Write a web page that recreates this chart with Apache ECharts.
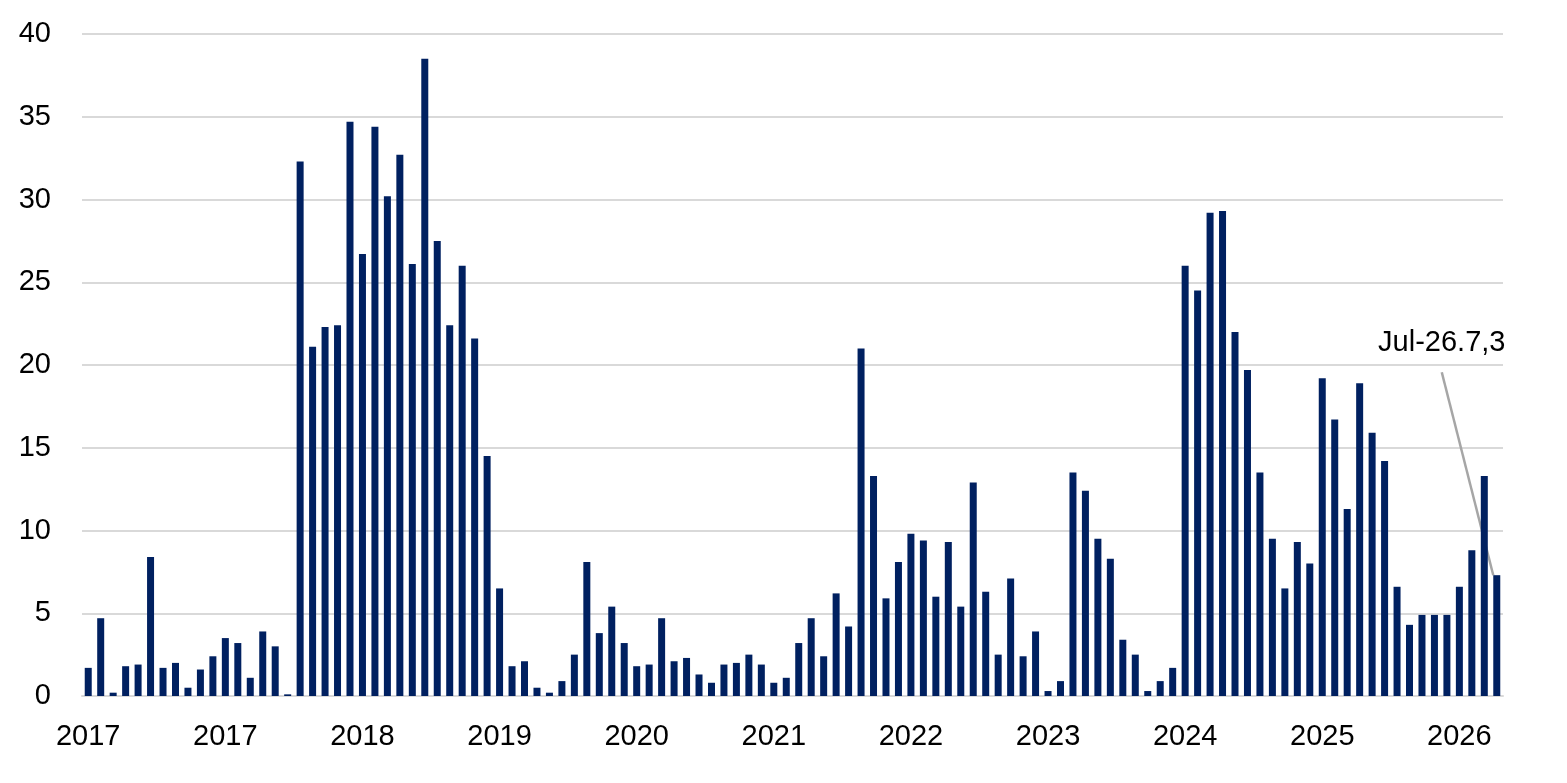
<!DOCTYPE html>
<html>
<head>
<meta charset="utf-8">
<script src="https://cdn.jsdelivr.net/npm/echarts@6/dist/echarts.min.js"></script>
<style>
html,body{margin:0;padding:0;background:#fff;}
#chart{width:1567px;height:783px;}
</style>
</head>
<body>
<div id="chart"></div>
<script>
var categories = [
"Jan-17","Feb-17","Mar-17","Apr-17","May-17","Jun-17","Jul-17","Aug-17","Sep-17","Oct-17","Nov-17","Dec-17",
"Jan-18","Feb-18","Mar-18","Apr-18","May-18","Jun-18","Jul-18","Aug-18","Sep-18","Oct-18","Nov-18","Dec-18",
"Jan-19","Feb-19","Mar-19","Apr-19","May-19","Jun-19","Jul-19","Aug-19","Sep-19","Oct-19","Nov-19","Dec-19",
"Jan-20","Feb-20","Mar-20","Apr-20","May-20","Jun-20","Jul-20","Aug-20","Sep-20","Oct-20","Nov-20","Dec-20",
"Jan-21","Feb-21","Mar-21","Apr-21","May-21","Jun-21","Jul-21","Aug-21","Sep-21","Oct-21","Nov-21","Dec-21",
"Jan-22","Feb-22","Mar-22","Apr-22","May-22","Jun-22","Jul-22","Aug-22","Sep-22","Oct-22","Nov-22","Dec-22",
"Jan-23","Feb-23","Mar-23","Apr-23","May-23","Jun-23","Jul-23","Aug-23","Sep-23","Oct-23","Nov-23","Dec-23",
"Jan-24","Feb-24","Mar-24","Apr-24","May-24","Jun-24","Jul-24","Aug-24","Sep-24","Oct-24","Nov-24","Dec-24",
"Jan-25","Feb-25","Mar-25","Apr-25","May-25","Jun-25","Jul-25","Aug-25","Sep-25","Oct-25","Nov-25","Dec-25",
"Jan-26","Feb-26","Mar-26","Apr-26","May-26","Jun-26"
];

var values = [
1.7,4.7,0.2,1.8,1.9,8.4,1.7,2.0,0.5,1.6,2.4,3.5,
3.2,1.1,3.9,3.0,0.1,32.3,21.1,22.3,22.4,34.7,26.7,34.4,
30.2,32.7,26.1,38.5,27.5,22.4,26.0,21.6,14.5,6.5,1.8,2.1,
0.5,0.2,0.9,2.5,8.1,3.8,5.4,3.2,1.8,1.9,4.7,2.1,
2.3,1.3,0.8,1.9,2.0,2.5,1.9,0.8,1.1,3.2,4.7,2.4,
6.2,4.2,21.0,13.3,5.9,8.1,9.8,9.4,6.0,9.3,5.4,12.9,
6.3,2.5,7.1,2.4,3.9,0.3,0.9,13.5,12.4,9.5,8.3,3.4,
2.5,0.3,0.9,1.7,26.0,24.5,29.2,29.3,22.0,19.7,13.5,9.5,
6.5,9.3,8.0,19.2,16.7,11.3,18.9,15.9,14.2,6.6,4.3,4.9,
4.9,4.9,6.6,8.8,13.3,7.3
];

var tickLabels = ["2017","2017","2018","2019","2020","2021","2022","2023","2024","2025","2026"];
var labelEvery = 11;
var annotationText = "Jul-26.7,3";
var lastIndex = values.length - 1;

var guideLine = { show: true, lineStyle: { color: '#a6a6a6', width: 2.5 } };

var seriesData = values.map(function (v, i) {
  if (i === lastIndex) {
    return {
      value: v,
      label: {
        show: true,
        position: 'top',
        formatter: annotationText,
        color: '#000',
        fontSize: 29,
        lineHeight: 58,
        fontFamily: 'Liberation Sans, Arial, sans-serif'
      },
      labelLine: guideLine
    };
  }
  return v;
});

var chart = echarts.init(document.getElementById('chart'));
chart.setOption({
  animation: false,
  backgroundColor: '#ffffff',
  grid: { left: 82, right: 64, top: 34, bottom: 87, containLabel: false },
  xAxis: {
    type: 'category',
    data: categories,
    boundaryGap: true,
    axisLine: { show: true, lineStyle: { color: '#d9d9d9', width: 2 } },
    axisTick: { show: false },
    axisLabel: {
      interval: labelEvery - 1,
      margin: 26,
      color: '#000',
      fontSize: 29,
      fontFamily: 'Liberation Sans, Arial, sans-serif',
      formatter: function (v, i) {
        return tickLabels[Math.round(i / labelEvery)] || '';
      }
    },
    splitLine: { show: false }
  },
  yAxis: {
    type: 'value',
    min: 0,
    max: 40,
    interval: 5,
    axisLine: { show: false },
    axisTick: { show: false },
    axisLabel: {
      margin: 31,
      color: '#000',
      fontSize: 29,
      fontFamily: 'Liberation Sans, Arial, sans-serif'
    },
    splitLine: { show: true, lineStyle: { color: '#d9d9d9', width: 2 } }
  },
  series: [{
    type: 'bar',
    data: seriesData,
    barWidth: 7,
    itemStyle: { color: '#002060' },
    labelLine: guideLine,
    labelLayout: function (params) {
      if (params.dataIndex === lastIndex) {
        return { dx: -55, dy: -198, hideOverlap: false };
      }
      return {};
    }
  }]
});
</script>
</body>
</html>
